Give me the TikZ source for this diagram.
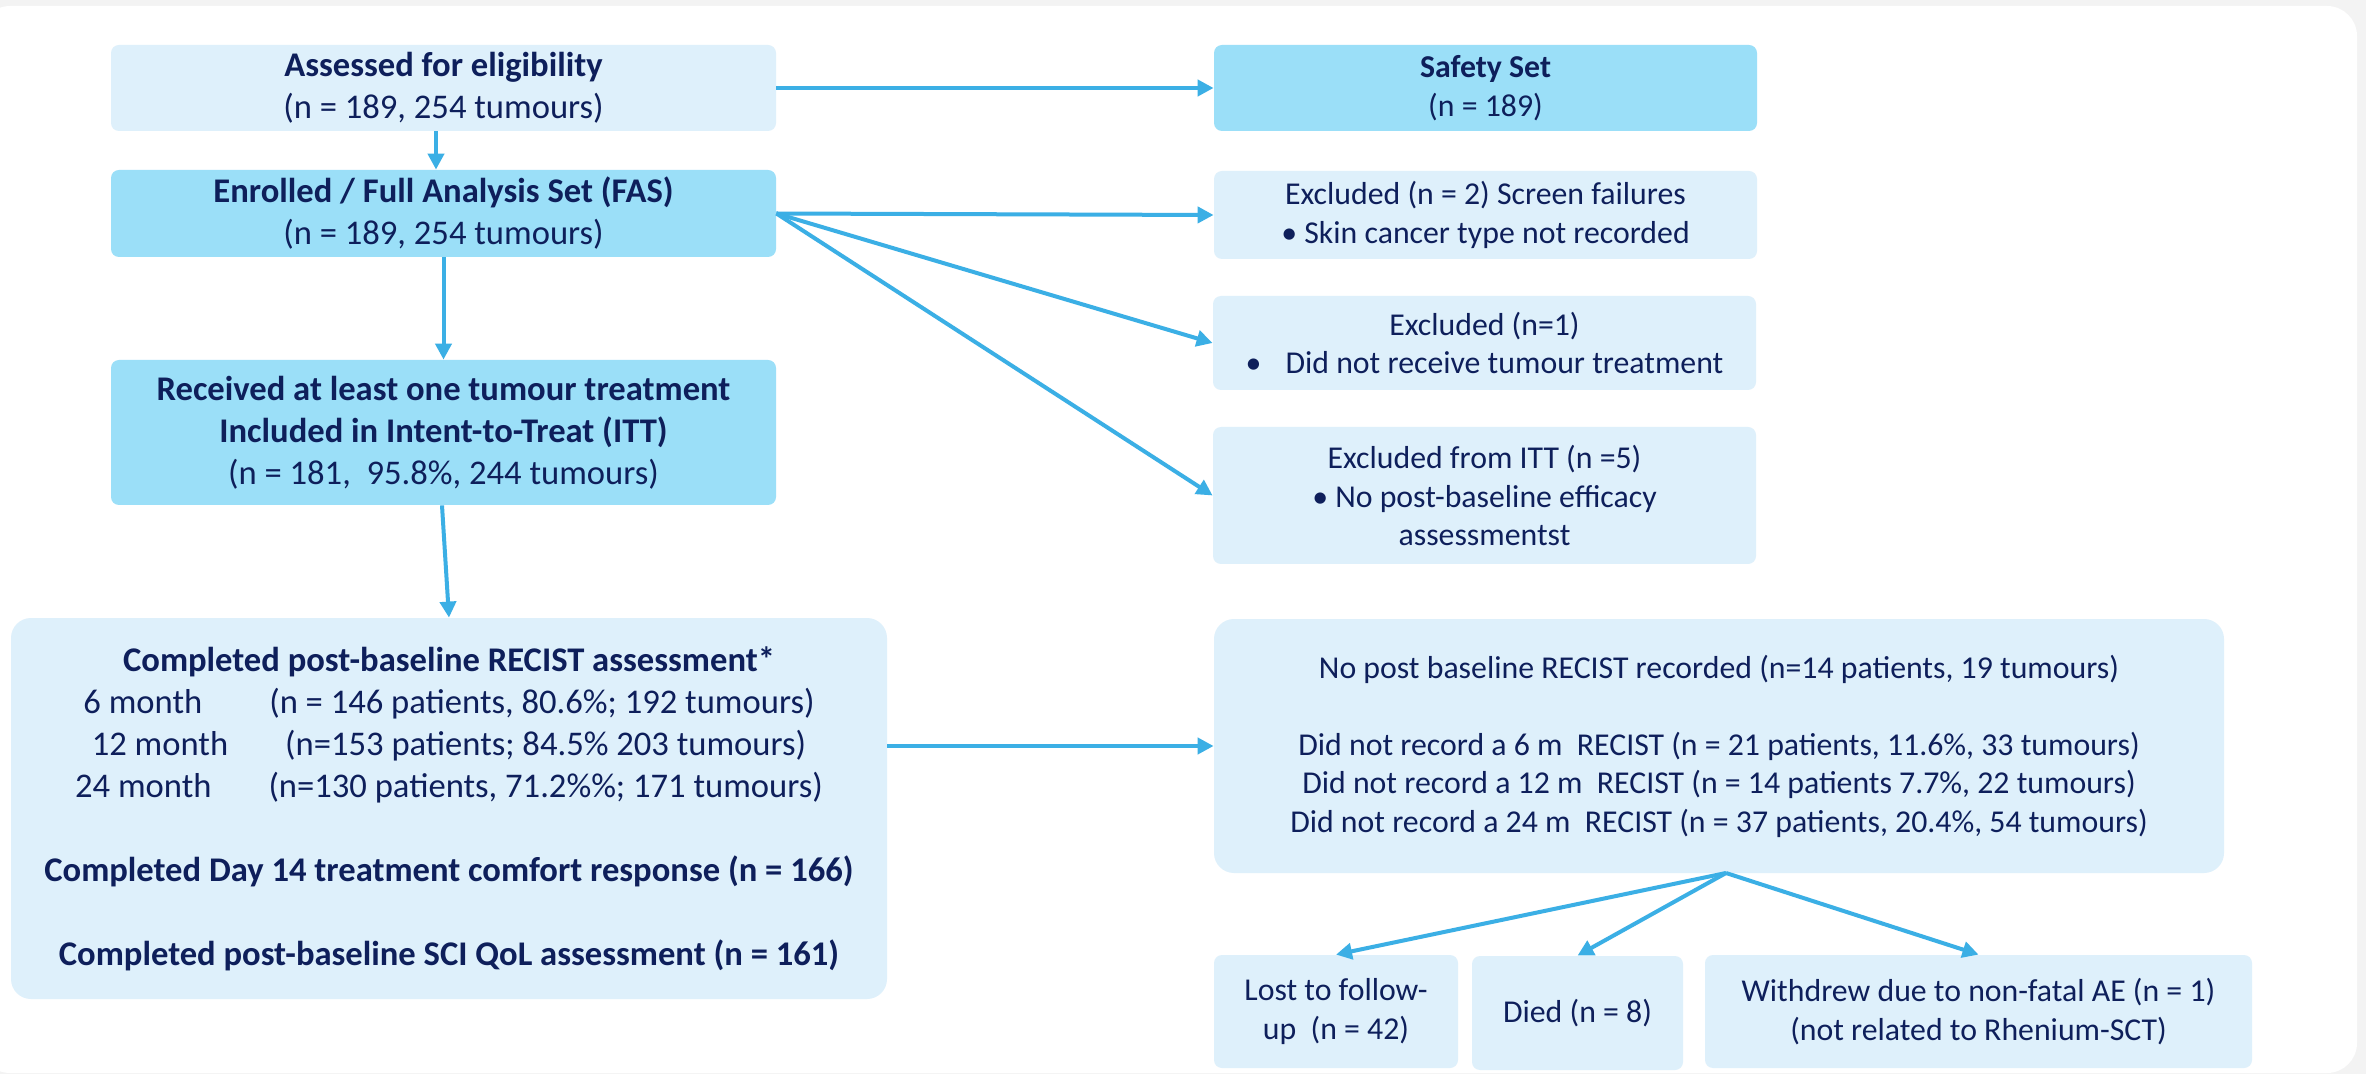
\documentclass[tikz,border=0pt]{standalone}
\usepackage{fontspec}
\setmainfont{Carlito}
\usetikzlibrary{arrows.meta}
\definecolor{lightbox}{HTML}{DEF0FB}
\definecolor{darkbox}{HTML}{9BDFF8}
\definecolor{navy}{HTML}{0E1F5B}
\definecolor{arrowc}{HTML}{3BAFE5}
\definecolor{bggray}{HTML}{F3F3F3}
\begin{document}
\begin{tikzpicture}[x=0.5pt,y=-0.5pt,
  box/.style={rectangle, rounded corners=4pt, inner sep=0pt, align=center, text=navy,
    font=\fontsize{17.3}{21}\selectfont},
  light/.style={box, fill=lightbox},
  dark/.style={box, fill=darkbox},
  rfont/.style={font=\fontsize{15.9}{19.25}\selectfont},
  conn/.style={draw=arrowc, line width=2pt, -{Triangle[length=8pt,width=8pt]}},
]
\useasboundingbox (0,0) rectangle (2366,1074);
\fill[bggray] (0,0) rectangle (2366,1074);
\fill[white, rounded corners=15pt] (-20,6) rectangle (2357,1073);

% left column
\node[light, minimum width=332.5pt, minimum height=43pt] (A) at (443.5,88)
  {\textbf{Assessed for eligibility}\\(n = 189, 254 tumours)};
\node[dark, minimum width=332.5pt, minimum height=43.5pt] (B) at (443.5,213.5)
  {\textbf{Enrolled / Full Analysis Set (FAS)}\\(n = 189, 254 tumours)};
\node[dark, minimum width=332.5pt, minimum height=72.5pt] (C) at (443.5,432.5)
  {\textbf{Received at least one tumour treatment}\\\textbf{Included in Intent-to-Treat (ITT)}\\(n = 181,~ 95.8\%, 244 tumours)};
\node[light, rounded corners=10pt, minimum width=438pt, minimum height=190.5pt] (D) at (449,808.5)
  {\textbf{Completed post-baseline RECIST assessment*}\\
   6 month\hspace{33.5pt}(n = 146 patients, 80.6\%; 192 tumours)\\
   12 month\hspace{28.5pt}(n=153 patients; 84.5\% 203 tumours)\\
   24 month\hspace{28.5pt}(n=130 patients, 71.2\%\%; 171 tumours)\\[21pt]
   \textbf{Completed Day 14 treatment comfort response (n = 166)}\\[21pt]
   \textbf{Completed post-baseline SCI QoL assessment (n = 161)}};

% right column
\node[dark, rfont, minimum width=271.5pt, minimum height=43pt] (S) at (1485.5,88)
  {\textbf{Safety Set}\\(n = 189)};
\node[light, rfont, minimum width=271.5pt, minimum height=44pt] (SF) at (1485.5,215)
  {Excluded (n = 2) Screen failures\\\textbullet\ Skin cancer type not recorded};
\node[light, rfont, minimum width=271.5pt, minimum height=47pt] (X1) at (1484.5,343)
  {Excluded (n=1)\\\textbullet\hspace{12pt}Did not receive tumour treatment};
\node[light, rfont, minimum width=271.5pt, minimum height=68.5pt] (XI) at (1484.5,495.5)
  {Excluded from ITT (n =5)\\\textbullet\ No post-baseline efficacy\\assessmentst};
\node[light, rfont, rounded corners=10pt, minimum width=505pt, minimum height=127pt] (E) at (1719,746)
  {No post baseline RECIST recorded (n=14 patients, 19 tumours)\\[19.25pt]
   Did not record a 6 m~ RECIST (n = 21 patients, 11.6\%, 33 tumours)\\
   Did not record a 12 m~ RECIST (n = 14 patients 7.7\%, 22 tumours)\\
   Did not record a 24 m~ RECIST (n = 37 patients, 20.4\%, 54 tumours)};
\node[light, rfont, minimum width=122pt, minimum height=56.5pt] (L) at (1336,1011.5)
  {Lost to follow-\\up~ (n = 42)};
\node[light, rfont, minimum width=105.5pt, minimum height=57pt] (Di) at (1577.5,1013)
  {Died (n = 8)};
\node[light, rfont, minimum width=273.5pt, minimum height=56.5pt] (W) at (1978.5,1011.5)
  {Withdrew due to non-fatal AE (n = 1)\\(not related to Rhenium-SCT)};

\coordinate (br) at (1726,873);

% connectors
\draw[conn] (A.east) -- (S.west);
\draw[conn] (436,0 |- A.south) -- (436,0 |- B.north);
\draw[conn] (B.south) -- (C.north);
\draw[conn] (442,0 |- C.south) -- (449,0 |- D.north);
\draw[conn] (B.east) -- (SF.west);
\draw[conn] (B.east) -- (X1.west);
\draw[conn] (B.east) -- (XI.west);
\draw[conn] (D.east |- E.west) -- (E.west);
\draw[conn] (br) -- (L.north);
\draw[conn] (br) -- (Di.north);
\draw[conn] (br) -- (W.north);
\end{tikzpicture}
\end{document}
